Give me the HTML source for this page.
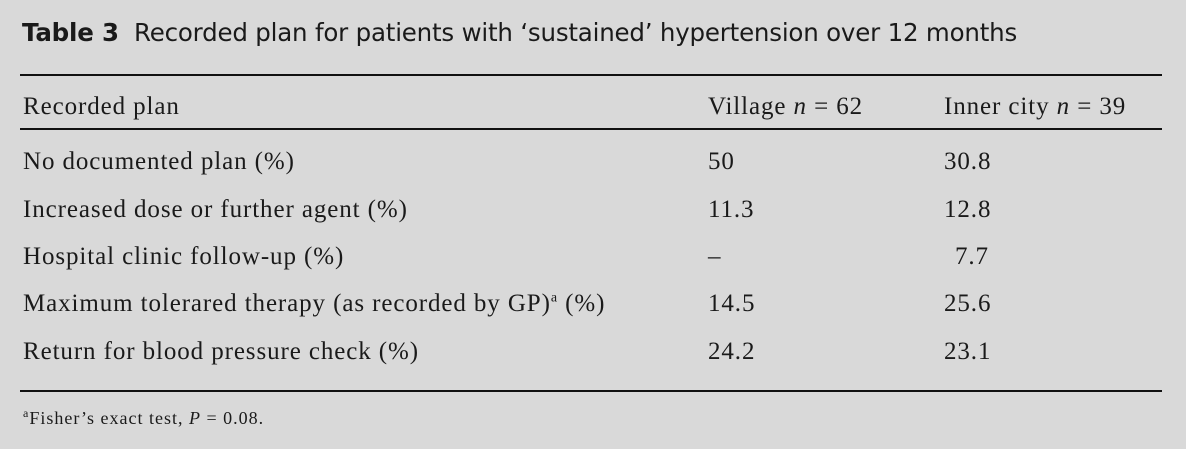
<!DOCTYPE html>
<html><head><style>
body{margin:0;width:1186px;height:449px;background:#d9d9d9;position:relative;overflow:hidden;font-family:"Liberation Serif",serif;color:#1a1a1a}
.t{position:absolute;left:22px;top:18px;font-family:"DejaVu Sans","Liberation Sans",sans-serif;font-size:24.5px;white-space:nowrap;letter-spacing:-0.2px}
.l{position:absolute;left:20px;width:1142px;height:2px;background:#111}
.r{position:absolute;font-size:25px;letter-spacing:0.9px;white-space:nowrap;line-height:1}
.c1{left:23px}.c2{left:708px}.c3{left:944px}
</style></head><body>
<div class="t"><b>Table 3</b>&nbsp; Recorded plan for patients with ‘sustained’ hypertension over 12 months</div>
<div class="l" style="top:74px"></div>
<div class="l" style="top:128px"></div>
<div class="l" style="top:390px"></div>
<div class="r c1" style="top:94px">Recorded plan</div>
<div class="r c2" style="top:94px">Village <i>n</i> = 62</div>
<div class="r c3" style="top:94px">Inner city <i>n</i> = 39</div>
<div class="r c1" style="top:149px">No documented plan (%)</div><div class="r c2" style="top:149px">50</div><div class="r c3" style="top:149px">30.8</div>
<div class="r c1" style="top:197px">Increased dose or further agent (%)</div><div class="r c2" style="top:197px">11.3</div><div class="r c3" style="top:197px">12.8</div>
<div class="r c1" style="top:244px">Hospital clinic follow-up (%)</div><div class="r c2" style="top:244px">–</div><div class="r c3" style="top:244px;left:955px">7.7</div>
<div class="r c1" style="top:291px">Maximum tolerared therapy (as recorded by GP)<sup style="font-size:14px">a</sup> (%)</div><div class="r c2" style="top:291px">14.5</div><div class="r c3" style="top:291px">25.6</div>
<div class="r c1" style="top:339px">Return for blood pressure check (%)</div><div class="r c2" style="top:339px">24.2</div><div class="r c3" style="top:339px">23.1</div>
<div class="r c1" style="top:407px;font-size:18px;letter-spacing:1px"><sup style="font-size:12px">a</sup>Fisher’s exact test, <i>P</i> = 0.08.</div>
</body></html>
